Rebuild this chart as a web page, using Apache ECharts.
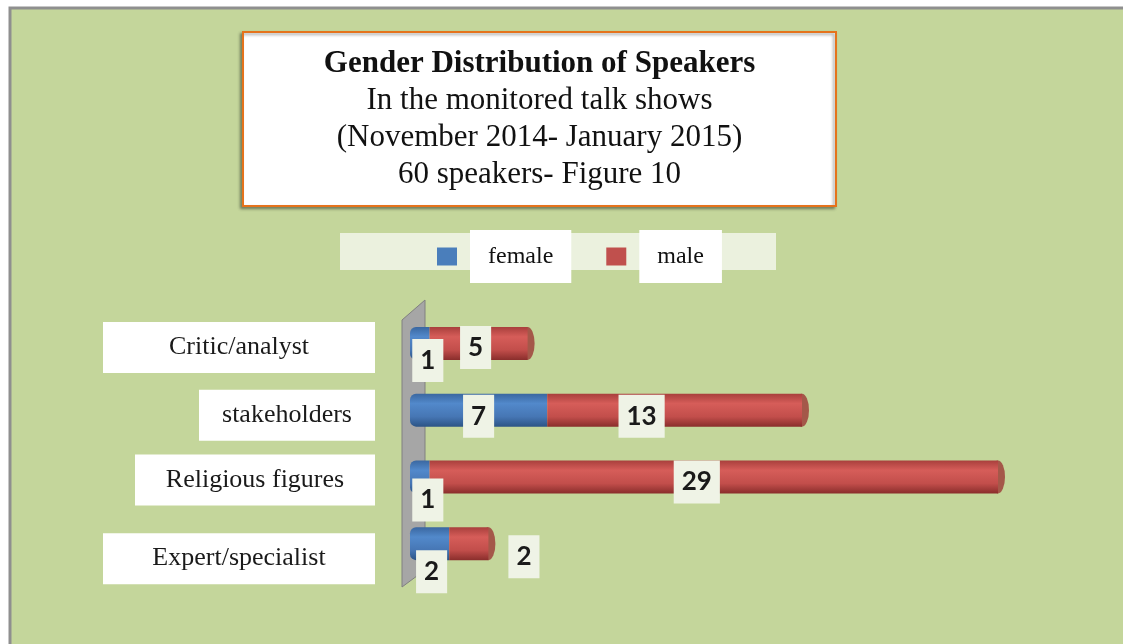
<!DOCTYPE html>
<html>
<head>
<meta charset="utf-8">
<script src="https://cdn.jsdelivr.net/npm/echarts@6/dist/echarts.min.js"></script>
<style>
  html, body { margin: 0; padding: 0; background: #fff; }
  #genderChart { width: 1123px; height: 644px; }
</style>
</head>
<body>
<div id="genderChart"></div>
<script>
// data
const categories = ['Critic/analyst', 'stakeholders', 'Religious figures', 'Expert/specialist'];
const female = [1, 7, 1, 2];
const male = [5, 13, 29, 2];
const titleLines = [
  'Gender Distribution of Speakers',
  'In the monitored talk shows',
  '(November 2014- January 2015)',
  '60 speakers- Figure 10'
];

const chart = echarts.init(document.getElementById('genderChart'));

// label boxes on the left have different widths / shifts in the original
const catBoxWidth = [272, 176, 240, 272];
const catShift = [8, 10, 6, 30];
const femaleLabelOffsets = [[8, 17], [0, 6], [8, 23], [2, 28]];
const maleLabelOffsets = [[-3, 4], [-33, 6], [-17, 5], [0, 13]];

const serif = "'Liberation Serif', 'DejaVu Serif', serif";

const valueLabel = {
  show: true,
  fontFamily: 'Lato',
  fontWeight: 'bold',
  fontSize: 26,
  color: '#1a1a1a',
  backgroundColor: '#eff3e6',
  padding: [9, 8, 8, 8]
};

const blueFill = new echarts.graphic.LinearGradient(0, 0, 0, 1, [
  { offset: 0, color: '#3a67a0' },
  { offset: 0.3, color: '#5289cb' },
  { offset: 0.7, color: '#4676b4' },
  { offset: 1, color: '#2c5486' }
]);
const redFill = new echarts.graphic.LinearGradient(0, 0, 0, 1, [
  { offset: 0, color: '#a83f3c' },
  { offset: 0.3, color: '#d65d59' },
  { offset: 0.7, color: '#c24e4b' },
  { offset: 1, color: '#8a2e2c' }
]);

const catRich = {};
catBoxWidth.forEach((w, i) => {
  catRich['c' + i] = {
    width: w,
    height: 51,
    align: 'center',
    backgroundColor: '#fff',
    fontFamily: serif,
    fontSize: 26,
    color: '#1a1a1a'
  };
  catRich['s' + i] = { height: catShift[i], lineHeight: catShift[i], fontSize: 1 };
});

const titleRich = {
  b: { fontFamily: serif, fontWeight: 'bold', fontSize: 31, lineHeight: 37, width: 593, align: 'center', color: '#111' },
  n: { fontFamily: serif, fontWeight: 'normal', fontSize: 31, lineHeight: 37, width: 593, align: 'center', color: '#111' }
};
const titleText = titleLines.map((t, i) => '{' + (i === 0 ? 'b' : 'n') + '|' + t + '}').join('\n');

const option = {
  backgroundColor: '#fff',
  animation: false,
  title: {
    text: titleText,
    left: 243,
    top: 29,
    padding: [16, 0, 16, 0],
    backgroundColor: '#fff',
    borderColor: '#e5731c',
    borderWidth: 2,
    shadowColor: 'rgba(0,0,0,0.35)',
    shadowBlur: 3,
    shadowOffsetX: -2,
    shadowOffsetY: 2,
    textStyle: { rich: titleRich }
  },
  legend: {
    data: [
      { name: 'female', itemStyle: { color: '#4a7ebb' } },
      { name: 'male', itemStyle: { color: '#c0504d' } }
    ],
    left: 437,
    top: 230,
    padding: 0,
    icon: 'rect',
    itemWidth: 20,
    itemHeight: 18,
    itemGap: 35,
    formatter: name => '{g|}{t|' + name + '}',
    textStyle: {
      rich: {
        g: { width: 8 },
        t: {
          fontFamily: serif,
          fontSize: 24,
          color: '#111',
          backgroundColor: '#fff',
          height: 53,
          lineHeight: 53,
          padding: [0, 18]
        }
      }
    }
  },
  graphic: [
    {
      type: 'rect',
      z: -10,
      shape: { x: 10, y: 8, width: 1120, height: 645 },
      style: { fill: '#c4d69b', stroke: '#8f8f8f', lineWidth: 3 }
    },
    {
      type: 'rect',
      z: -5,
      shape: { x: 340, y: 233, width: 436, height: 37 },
      style: { fill: '#ebf1de' }
    },
    {
      type: 'polygon',
      z: -5,
      shape: { points: [[402, 320], [425, 300], [425, 570], [402, 587]] },
      style: { fill: '#a6a6a6', stroke: '#808080', lineWidth: 1 }
    }
  ],
  grid: {
    left: 410,
    right: 125,
    top: 310,
    bottom: 67,
    containLabel: false
  },
  xAxis: {
    type: 'value',
    min: 0,
    max: 30,
    show: false
  },
  yAxis: {
    type: 'category',
    data: categories,
    inverse: true,
    axisLine: { show: false },
    axisTick: { show: false },
    splitLine: { show: false },
    axisLabel: {
      margin: 35,
      interval: 0,
      hideOverlap: false,
      formatter: (v, i) => '{s' + i + '| }\n{c' + i + '|' + v + '}',
      rich: catRich
    }
  },
  series: [
    {
      name: 'female',
      type: 'bar',
      stack: 'total',
      barWidth: 33,
      itemStyle: { color: blueFill, borderRadius: [6, 0, 0, 6] },
      data: female.map((v, i) => ({
        value: v,
        label: Object.assign({}, valueLabel, { position: 'inside', offset: femaleLabelOffsets[i] })
      }))
    },
    {
      name: 'male',
      type: 'bar',
      stack: 'total',
      barWidth: 33,
      itemStyle: { color: redFill },
      data: male.map((v, i) => ({
        value: v,
        label: Object.assign({}, valueLabel, i === 3
          ? { position: 'right', distance: 20, offset: maleLabelOffsets[i] }
          : { position: 'inside', offset: maleLabelOffsets[i] })
      }))
    },
    {
      // end cap of the cylinders
      name: 'cap',
      type: 'scatter',
      symbol: 'circle',
      symbolSize: [14, 33],
      z: 1,
      itemStyle: { color: '#9c3835' },
      silent: true,
      data: male.map((v, i) => [v + female[i], i])
    }
  ]
};

chart.setOption(option);
</script>
</body>
</html>
